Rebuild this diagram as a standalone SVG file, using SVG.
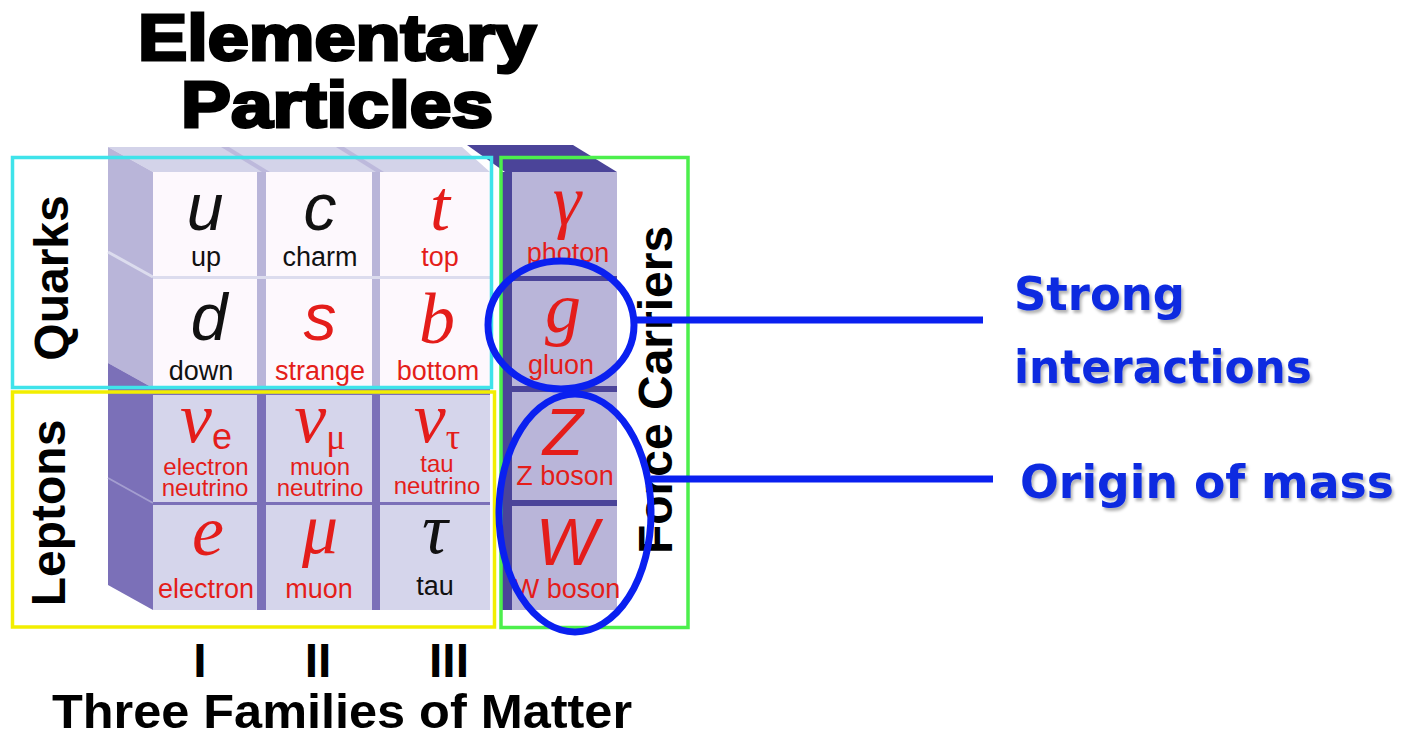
<svg xmlns="http://www.w3.org/2000/svg" width="1403" height="735" viewBox="0 0 1403 735">
  <defs>
    <style>
      .title { font-family: "Liberation Sans", Arial, sans-serif; font-weight: bold; fill: #000; stroke: #000; stroke-width: 3; text-anchor: middle; }
      .group { font-family: "Liberation Sans", Arial, sans-serif; font-weight: bold; font-size: 48px; fill: #000; text-anchor: middle; }
      .sym-sans { font-family: "Liberation Sans", Arial, sans-serif; font-style: italic; font-size: 66px; text-anchor: middle; }
      .sym-serif { font-family: "Liberation Serif", "Times New Roman", serif; font-style: italic; font-size: 72px; text-anchor: middle; }
      .name { font-family: "Liberation Sans", Arial, sans-serif; font-size: 27px; text-anchor: middle; }
      .small { font-size: 24px; }
      .red { fill: #e41d1a; }
      .blk { fill: #111; }
      .q-front { fill: #fdf8fd; }
      .l-front { fill: #d5d5eb; }
      .f-front { fill: #b9b5d9; }
      .frame { fill: none; stroke-width: 3.5; }
      .note { font-family: "DejaVu Sans", "Noto Sans", sans-serif; font-weight: bold; font-size: 46px; fill: #0b2be0; }
      .blue { fill: none; stroke: #0a20f0; stroke-width: 7; }
    </style>
    <filter id="shadow" x="-5%" y="-20%" width="115%" height="150%">
      <feDropShadow dx="2" dy="3" stdDeviation="1.5" flood-color="#000" flood-opacity="0.3"/>
    </filter>
  </defs>

  <rect width="1403" height="735" fill="#fff"/>

  <!-- Heading -->
  <g id="heading">
    <text class="title" x="337" y="60" font-size="64" textLength="398" lengthAdjust="spacingAndGlyphs">Elementary</text>
    <text class="title" x="337" y="127" font-size="64" textLength="312" lengthAdjust="spacingAndGlyphs">Particles</text>
  </g>

  <!-- Block of matter cubes: top and side faces -->
  <g id="matter-block">
    <polygon points="108,147 462,147 490,172 153,172" fill="#d3d3e9"/>
    <polygon points="221,147 229,147 270,172 262,172" fill="#bdb9dc"/>
    <polygon points="336,147 344,147 384,172 376,172" fill="#bdb9dc"/>
    <polygon points="108,147 153,172 153,388 108,363" fill="#b9b5d9"/>
    <line x1="108" y1="252" x2="153" y2="277" stroke="#dcdcee" stroke-width="3"/>
    <polygon points="108,363 153,388 153,610 108,585" fill="#7b70b8"/>
    <line x1="108" y1="478" x2="153" y2="503" stroke="#a49ed0" stroke-width="2"/>
    <!-- gaps between cube fronts -->
    <rect x="153" y="172" width="337" height="216" fill="#b9b5d9"/>
    <rect x="153" y="388" width="337" height="222" fill="#7b70b8"/>
    <rect x="153" y="276" width="337" height="3" fill="#dcdcee"/>
  </g>

  <!-- Force carrier column: dark top and side -->
  <g id="carrier-block">
    <polygon points="467,145 573,145 617,172 505,172" fill="#4b4499"/>
    <rect x="501" y="172" width="116" height="438" fill="#4b4499"/>
  </g>

  <!-- Quarks -->
  <g id="quark-up">
    <rect class="q-front" x="153" y="172" width="104" height="104"/>
    <text class="sym-sans blk" x="205" y="230">u</text>
    <text class="name blk" x="206" y="266">up</text>
  </g>
  <g id="quark-charm">
    <rect class="q-front" x="266" y="172" width="106" height="104"/>
    <text class="sym-sans blk" x="320" y="230">c</text>
    <text class="name blk" x="320" y="266">charm</text>
  </g>
  <g id="quark-top">
    <rect class="q-front" x="380" y="172" width="110" height="104"/>
    <text class="sym-serif red" x="440" y="230">t</text>
    <text class="name red" x="440" y="266">top</text>
  </g>
  <g id="quark-down">
    <rect class="q-front" x="153" y="279" width="104" height="109"/>
    <text class="sym-sans blk" x="209" y="340">d</text>
    <text class="name blk" x="201" y="380">down</text>
  </g>
  <g id="quark-strange">
    <rect class="q-front" x="266" y="279" width="106" height="109"/>
    <text class="sym-sans red" x="320" y="340">s</text>
    <text class="name red" x="320" y="380">strange</text>
  </g>
  <g id="quark-bottom">
    <rect class="q-front" x="380" y="279" width="110" height="109"/>
    <text class="sym-serif red" x="437" y="343">b</text>
    <text class="name red" x="438" y="380">bottom</text>
  </g>

  <!-- Leptons -->
  <g id="lepton-nu-e">
    <rect class="l-front" x="153" y="395" width="104" height="107"/>
    <text class="sym-serif red" x="206" y="442" font-size="70">ν<tspan font-family="Liberation Sans, Arial, sans-serif" font-style="normal" font-size="36" dy="7">e</tspan></text>
    <text class="name red small" x="206" y="475">electron</text>
    <text class="name red small" x="205" y="496">neutrino</text>
  </g>
  <g id="lepton-nu-mu">
    <rect class="l-front" x="266" y="395" width="106" height="107"/>
    <text class="sym-serif red" x="320" y="442" font-size="70">ν<tspan font-style="normal" font-size="36" dy="7">μ</tspan></text>
    <text class="name red small" x="320" y="475">muon</text>
    <text class="name red small" x="320" y="496">neutrino</text>
  </g>
  <g id="lepton-nu-tau">
    <rect class="l-front" x="380" y="395" width="110" height="107"/>
    <text class="sym-serif red" x="437" y="442" font-size="70">ν<tspan font-style="normal" font-size="36" dy="7">τ</tspan></text>
    <text class="name red small" x="437" y="472">tau</text>
    <text class="name red small" x="437" y="494">neutrino</text>
  </g>
  <g id="lepton-electron">
    <rect class="l-front" x="153" y="505" width="104" height="105"/>
    <text class="sym-serif red" x="208" y="555" font-size="74">e</text>
    <text class="name red" x="206" y="598" font-size="26">electron</text>
  </g>
  <g id="lepton-muon">
    <rect class="l-front" x="266" y="505" width="106" height="105"/>
    <text class="sym-serif red" x="320" y="553" font-size="70" font-style="normal">μ</text>
    <text class="name red" x="319" y="598">muon</text>
  </g>
  <g id="lepton-tau">
    <rect class="l-front" x="380" y="505" width="110" height="105"/>
    <text class="sym-serif blk" x="435" y="553" font-size="70" font-style="normal">τ</text>
    <text class="name blk" x="435" y="595">tau</text>
  </g>

  <!-- Force carriers -->
  <g id="boson-photon">
    <rect class="f-front" x="512" y="172" width="105" height="104"/>
    <text class="sym-serif red" x="567" y="225" font-size="68">γ</text>
    <text class="name red" x="568" y="262" font-size="26">photon</text>
  </g>
  <g id="boson-gluon">
    <rect class="f-front" x="512" y="281" width="105" height="105"/>
    <text class="sym-serif red" x="563" y="332">g</text>
    <text class="name red" x="561" y="374" font-size="26">gluon</text>
  </g>
  <g id="boson-z">
    <rect class="f-front" x="512" y="392" width="105" height="108"/>
    <text class="sym-sans red" x="563" y="455">Z</text>
    <text class="name red" x="565" y="485" font-size="26">Z boson</text>
  </g>
  <g id="boson-w">
    <rect class="f-front" x="512" y="506" width="105" height="104"/>
    <text class="sym-sans red" x="567" y="565">W</text>
    <text class="name red" x="567" y="598" font-size="26">W boson</text>
  </g>

  <!-- Group frames -->
  <g id="quarks">
    <rect class="frame" x="12.5" y="157.5" width="479" height="230" stroke="#3fe3ea"/>
    <text class="group" transform="translate(68,278) rotate(-90)">Quarks</text>
  </g>
  <g id="leptons">
    <rect class="frame" x="12.5" y="392" width="482" height="235" stroke="#f2ee00" stroke-width="4"/>
    <text class="group" transform="translate(65,513) rotate(-90)">Leptons</text>
  </g>
  <g id="force-carriers">
    <rect class="frame" x="501" y="157.5" width="187" height="470" stroke="#4cef4c"/>
    <text class="group" transform="translate(672,390) rotate(-90)" font-size="49">Force Carriers</text>
  </g>

  <!-- Family labels -->
  <g id="families">
    <text class="group" x="200" y="677" font-size="46">I</text>
    <text class="group" x="318" y="677" font-size="46">II</text>
    <text class="group" x="449" y="677" font-size="46">III</text>
    <text class="group" x="342" y="728" font-size="45" textLength="580" lengthAdjust="spacingAndGlyphs">Three Families of Matter</text>
  </g>

  <!-- Highlight rings and leader lines -->
  <g id="connectors">
    <ellipse class="blue" cx="561" cy="325" rx="73" ry="64"/>
    <ellipse class="blue" cx="575" cy="513" rx="76" ry="119"/>
    <line class="blue" x1="635" y1="320" x2="983" y2="320" stroke-width="6"/>
    <line class="blue" x1="651" y1="479" x2="993" y2="479" stroke-width="6"/>
  </g>

  <g id="strong-note" filter="url(#shadow)">
    <text class="note" x="1014" y="310" textLength="171" lengthAdjust="spacingAndGlyphs">Strong</text>
    <text class="note" x="1014" y="383" textLength="298" lengthAdjust="spacingAndGlyphs">interactions</text>
  </g>
  <g id="mass-note" filter="url(#shadow)">
    <text class="note" x="1020" y="498" textLength="374" lengthAdjust="spacingAndGlyphs">Origin of mass</text>
  </g>
</svg>
